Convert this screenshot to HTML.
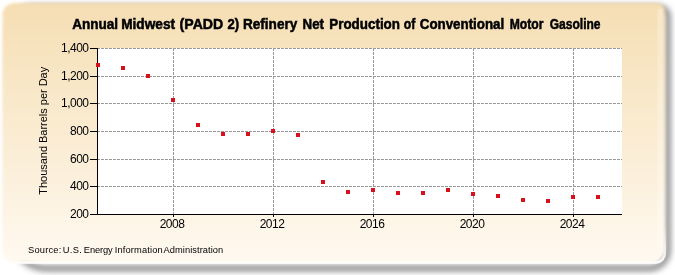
<!DOCTYPE html>
<html><head><meta charset="utf-8"><style>
html,body{margin:0;padding:0;background:#fff;width:675px;height:275px;overflow:hidden}
svg{display:block;will-change:transform}
text{font-family:"Liberation Sans",sans-serif}
</style></head><body>
<svg width="675" height="275" viewBox="0 0 675 275">
<defs>
<linearGradient id="bg" x1="0" y1="0" x2="0" y2="1">
<stop offset="0" stop-color="#F5DEB3"/><stop offset="0.997" stop-color="#FFF9F0"/><stop offset="1" stop-color="#FFFFFF"/>
</linearGradient>
<linearGradient id="glg" x1="0" y1="0" x2="0" y2="1">
<stop offset="0" stop-color="#fff" stop-opacity="0"/><stop offset="0.85" stop-color="#fff" stop-opacity="0"/><stop offset="1" stop-color="#fff" stop-opacity="1"/>
</linearGradient>
<filter id="sh" x="-5%" y="-10%" width="110%" height="120%"><feGaussianBlur stdDeviation="3"/></filter>
<filter id="gl" x="-5%" y="-10%" width="110%" height="120%"><feGaussianBlur stdDeviation="0.7"/></filter>
<filter id="pbl" x="-5%" y="-10%" width="110%" height="120%"><feGaussianBlur stdDeviation="1.5"/></filter>
</defs>
<path d="M32,8 L659.7,8 A8,8 0 0 1 667.7,16 L667.7,250.2 A18,18 0 0 1 649.7,268.2 L46,268.2 A34,34 0 0 1 12,234.2 L12,28 A20,20 0 0 1 32,8 Z" fill="none" stroke="#6E6E6E" stroke-width="5" filter="url(#sh)"/>
<rect x="2.5" y="3" width="662.3" height="259.5" rx="9" fill="none" stroke="url(#glg)" stroke-opacity="1" stroke-width="2.5" filter="url(#gl)"/>
<path d="M14.5,3 L656.8,3 A8,8 0 0 1 664.8,11 L664.8,247.5 A15,15 0 0 1 649.8,262.5 L12.5,262.5 A10,10 0 0 1 2.5,252.5 L2.5,15 A12,12 0 0 1 14.5,3 Z" fill="url(#bg)" filter="url(#pbl)"/>
<rect x="657.5" y="9" width="5" height="240" fill="#fff" fill-opacity="0.25" filter="url(#gl)"/>
<rect x="98" y="48" width="524" height="166" fill="#fff"/>

<line x1="98" y1="48.5" x2="622" y2="48.5" stroke="#999" stroke-width="1" stroke-dasharray="3,1" stroke-dashoffset="1"/>
<line x1="98" y1="76.5" x2="622" y2="76.5" stroke="#999" stroke-width="1" stroke-dasharray="3,1" stroke-dashoffset="1"/>
<line x1="98" y1="103.5" x2="622" y2="103.5" stroke="#999" stroke-width="1" stroke-dasharray="3,1" stroke-dashoffset="1"/>
<line x1="98" y1="131.5" x2="622" y2="131.5" stroke="#999" stroke-width="1" stroke-dasharray="3,1" stroke-dashoffset="1"/>
<line x1="98" y1="159.5" x2="622" y2="159.5" stroke="#999" stroke-width="1" stroke-dasharray="3,1" stroke-dashoffset="1"/>
<line x1="98" y1="186.5" x2="622" y2="186.5" stroke="#999" stroke-width="1" stroke-dasharray="3,1" stroke-dashoffset="1"/>
<line x1="173.5" y1="48" x2="173.5" y2="214" stroke="#999" stroke-width="1" stroke-dasharray="3,1"/>
<line x1="273.5" y1="48" x2="273.5" y2="214" stroke="#999" stroke-width="1" stroke-dasharray="3,1"/>
<line x1="373.5" y1="48" x2="373.5" y2="214" stroke="#999" stroke-width="1" stroke-dasharray="3,1"/>
<line x1="473.5" y1="48" x2="473.5" y2="214" stroke="#999" stroke-width="1" stroke-dasharray="3,1"/>
<line x1="573.5" y1="48" x2="573.5" y2="214" stroke="#999" stroke-width="1" stroke-dasharray="3,1"/>
<line x1="97.5" y1="48" x2="97.5" y2="215" stroke="#000" stroke-width="1"/>
<line x1="97" y1="214.5" x2="622" y2="214.5" stroke="#000" stroke-width="1"/>
<line x1="90" y1="48.5" x2="97" y2="48.5" stroke="#000" stroke-width="1"/>
<text x="88.5" y="51.6" font-size="12" letter-spacing="-0.5" text-anchor="end" fill="#000">1,400</text>
<line x1="90" y1="76.5" x2="97" y2="76.5" stroke="#000" stroke-width="1"/>
<text x="88.5" y="79.6" font-size="12" letter-spacing="-0.5" text-anchor="end" fill="#000">1,200</text>
<line x1="90" y1="103.5" x2="97" y2="103.5" stroke="#000" stroke-width="1"/>
<text x="88.5" y="106.6" font-size="12" letter-spacing="-0.5" text-anchor="end" fill="#000">1,000</text>
<line x1="90" y1="131.5" x2="97" y2="131.5" stroke="#000" stroke-width="1"/>
<text x="88.5" y="134.6" font-size="12" letter-spacing="-0.5" text-anchor="end" fill="#000">800</text>
<line x1="90" y1="159.5" x2="97" y2="159.5" stroke="#000" stroke-width="1"/>
<text x="88.5" y="162.6" font-size="12" letter-spacing="-0.5" text-anchor="end" fill="#000">600</text>
<line x1="90" y1="186.5" x2="97" y2="186.5" stroke="#000" stroke-width="1"/>
<text x="88.5" y="189.6" font-size="12" letter-spacing="-0.5" text-anchor="end" fill="#000">400</text>
<line x1="90" y1="214.5" x2="97" y2="214.5" stroke="#000" stroke-width="1"/>
<text x="88.5" y="217.6" font-size="12" letter-spacing="-0.5" text-anchor="end" fill="#000">200</text>
<line x1="173.5" y1="214" x2="173.5" y2="217" stroke="#000" stroke-width="1"/>
<text x="172" y="227.6" font-size="12" letter-spacing="-0.5" text-anchor="middle" fill="#000">2008</text>
<line x1="273.5" y1="214" x2="273.5" y2="217" stroke="#000" stroke-width="1"/>
<text x="272" y="227.6" font-size="12" letter-spacing="-0.5" text-anchor="middle" fill="#000">2012</text>
<line x1="373.5" y1="214" x2="373.5" y2="217" stroke="#000" stroke-width="1"/>
<text x="372" y="227.6" font-size="12" letter-spacing="-0.5" text-anchor="middle" fill="#000">2016</text>
<line x1="473.5" y1="214" x2="473.5" y2="217" stroke="#000" stroke-width="1"/>
<text x="472" y="227.6" font-size="12" letter-spacing="-0.5" text-anchor="middle" fill="#000">2020</text>
<line x1="573.5" y1="214" x2="573.5" y2="217" stroke="#000" stroke-width="1"/>
<text x="572" y="227.6" font-size="12" letter-spacing="-0.5" text-anchor="middle" fill="#000">2024</text>
<rect x="96" y="63" width="4" height="4" fill="#D8101E"/>
<rect x="121" y="66" width="4" height="4" fill="#D8101E"/>
<rect x="146" y="74" width="4" height="4" fill="#D8101E"/>
<rect x="171" y="98" width="4" height="4" fill="#D8101E"/>
<rect x="196" y="123" width="4" height="4" fill="#D8101E"/>
<rect x="221" y="132" width="4" height="4" fill="#D8101E"/>
<rect x="246" y="132" width="4" height="4" fill="#D8101E"/>
<rect x="271" y="129" width="4" height="4" fill="#D8101E"/>
<rect x="296" y="133" width="4" height="4" fill="#D8101E"/>
<rect x="321" y="180" width="4" height="4" fill="#D8101E"/>
<rect x="346" y="190" width="4" height="4" fill="#D8101E"/>
<rect x="371" y="188" width="4" height="4" fill="#D8101E"/>
<rect x="396" y="191" width="4" height="4" fill="#D8101E"/>
<rect x="421" y="191" width="4" height="4" fill="#D8101E"/>
<rect x="446" y="188" width="4" height="4" fill="#D8101E"/>
<rect x="471" y="192" width="4" height="4" fill="#D8101E"/>
<rect x="496" y="194" width="4" height="4" fill="#D8101E"/>
<rect x="521" y="198" width="4" height="4" fill="#D8101E"/>
<rect x="546" y="199" width="4" height="4" fill="#D8101E"/>
<rect x="571" y="195" width="4" height="4" fill="#D8101E"/>
<rect x="596" y="195" width="4" height="4" fill="#D8101E"/>
<g font-size="14" font-weight="bold" fill="#000" stroke="#000" stroke-width="0.5">
<text x="72.15" y="29.4" textLength="45.94" lengthAdjust="spacingAndGlyphs">Annual</text>
<text x="121.15" y="29.4" textLength="53.98" lengthAdjust="spacingAndGlyphs">Midwest</text>
<text x="179.6" y="29.4" textLength="43.6" lengthAdjust="spacingAndGlyphs">(PADD</text>
<text x="227.4" y="29.4" textLength="11.62" lengthAdjust="spacingAndGlyphs">2)</text>
<text x="243.01" y="29.4" textLength="54.27" lengthAdjust="spacingAndGlyphs">Refinery</text>
<text x="302.62" y="29.4" textLength="21.43" lengthAdjust="spacingAndGlyphs">Net</text>
<text x="329.26" y="29.4" textLength="70.75" lengthAdjust="spacingAndGlyphs">Production</text>
<text x="403.85" y="29.4" textLength="11.49" lengthAdjust="spacingAndGlyphs">of</text>
<text x="419.75" y="29.4" textLength="84.45" lengthAdjust="spacingAndGlyphs">Conventional</text>
<text x="509.66" y="29.4" textLength="33.76" lengthAdjust="spacingAndGlyphs">Motor</text>
<text x="549.68" y="29.4" textLength="50.9" lengthAdjust="spacingAndGlyphs">Gasoline</text>
</g>
<text transform="translate(47.4,130.8) rotate(-90)" font-size="11" letter-spacing="-0.02" text-anchor="middle" fill="#000">Thousand Barrels per Day</text>
<g font-size="9.3" fill="#000" stroke="#000" stroke-width="0">
<text x="28.12" y="253.2" letter-spacing="0.194">Source:</text>
<text x="62.82" y="253.2" letter-spacing="0.331">U.S.</text>
<text x="83.87" y="253.2" letter-spacing="-0.116">Energy</text>
<text x="114.86" y="253.2" letter-spacing="0.127">Information</text>
<text x="163.55" y="253.2" letter-spacing="0.055">Administration</text>
</g>
</svg></body></html>
